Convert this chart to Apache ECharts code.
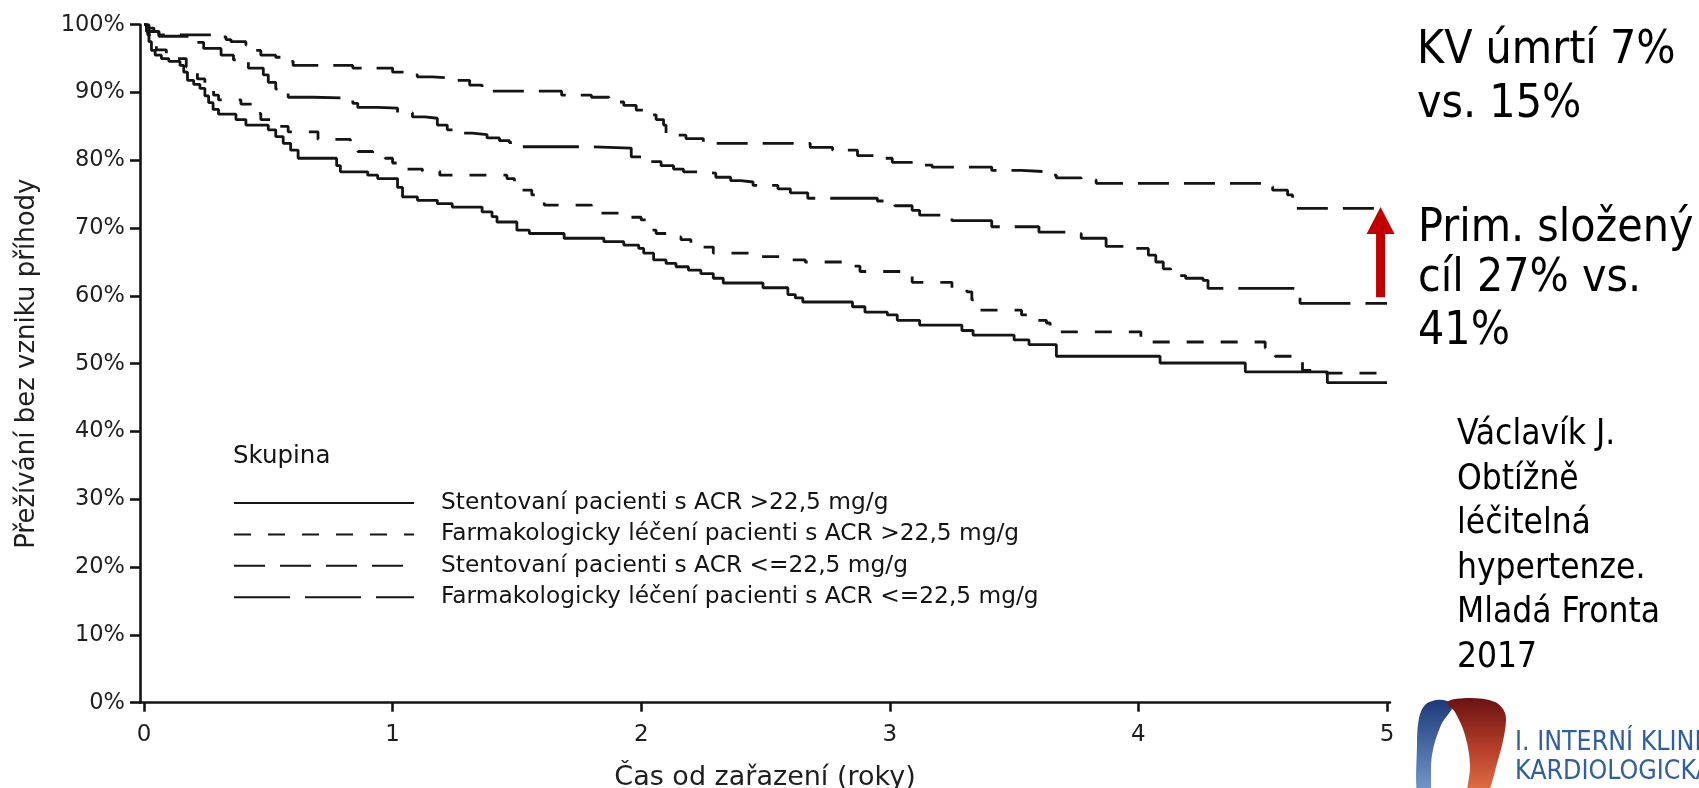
<!DOCTYPE html>
<html><head><meta charset="utf-8">
<script src="https://cdn.jsdelivr.net/npm/echarts@6.0.0/dist/echarts.min.js"></script>
<style>html,body{margin:0;padding:0;background:#fff}#c{width:1699px;height:788px}</style>
</head><body><div id="c"></div>
<script>
// ---- data (years, % survival without event) ----
const seriesNames = [
  'Stentovaní pacienti s ACR >22,5 mg/g',
  'Farmakologicky léčení pacienti s ACR >22,5 mg/g',
  'Stentovaní pacienti s ACR <=22,5 mg/g',
  'Farmakologicky léčení pacienti s ACR <=22,5 mg/g'
];
const stentHigh = [[0,100],[0.01,99],[0.02,97.5],[0.03,96.2],[0.045,95.5],[0.07,95],[0.1,94.6],[0.145,94],[0.16,93],[0.175,91.8],[0.2,91.2],[0.225,90.6],[0.245,89.5],[0.26,88.5],[0.278,87.5],[0.3,86.8],[0.37,86],[0.41,85.2],[0.5,84.5],[0.53,83.5],[0.56,82.5],[0.59,81.5],[0.62,80.3],[0.775,79.2],[0.79,78.3],[0.9,77.8],[0.94,77.3],[1.02,76],[1.04,74.6],[1.1,74.1],[1.18,73.6],[1.24,73.1],[1.36,72.4],[1.4,71.7],[1.42,70.9],[1.5,69.7],[1.55,69.2],[1.69,68.5],[1.85,68],[1.93,67.5],[1.99,67],[2.01,66.3],[2.05,65.3],[2.1,64.8],[2.14,64.3],[2.19,63.8],[2.24,63.3],[2.29,62.6],[2.33,61.9],[2.49,61.2],[2.59,60.2],[2.62,59.7],[2.65,59.1],[2.85,58.4],[2.9,57.6],[2.99,57.2],[3.03,56.4],[3.12,55.7],[3.29,54.9],[3.335,54.2],[3.5,53.5],[3.56,52.8],[3.67,51.1],[4.087,50.1],[4.43,48.8],[4.76,47.2],[5.0,47.2]];
const farmHigh = [[0,100],[0.015,98.5],[0.03,97.2],[0.05,96.3],[0.09,95.5],[0.13,95],[0.17,93.8],[0.2,93.3],[0.215,92],[0.245,91.2],[0.28,89.6],[0.3,88.9],[0.39,88.3],[0.44,86.9],[0.47,86],[0.52,85],[0.58,84.2],[0.7,83.1],[0.83,82],[0.86,81.3],[0.92,80.8],[0.97,80.3],[1.0,79.6],[1.03,78.7],[1.12,78.4],[1.19,77.8],[1.46,77.3],[1.49,76.6],[1.51,75.6],[1.56,74.9],[1.58,74.1],[1.61,73.4],[1.8,73],[1.84,72.2],[1.96,71.6],[2.0,71.2],[2.02,70.4],[2.03,69.7],[2.06,69.2],[2.11,68.7],[2.16,68.3],[2.2,67.5],[2.24,67.2],[2.29,66.3],[2.47,65.8],[2.59,65.3],[2.66,65],[2.84,64.4],[2.88,63.6],[3.07,63.1],[3.09,62],[3.25,61.2],[3.31,60.6],[3.33,59.4],[3.35,57.9],[3.53,57.2],[3.58,56.4],[3.63,56],[3.645,54.7],[4.01,53.2],[4.51,52.3],[4.55,51.1],[4.65,50.3],[4.66,49],[4.74,48.6],[5.0,48.6]];
const stentLow = [[0,100],[0.01,99.5],[0.04,99],[0.06,98.5],[0.29,98.2],[0.33,97.8],[0.35,97.5],[0.41,97],[0.44,96.2],[0.47,95.5],[0.53,95.2],[0.57,94.6],[0.6,94],[0.84,93.6],[1.0,93],[1.05,92.6],[1.1,92.3],[1.16,92.1],[1.26,91.8],[1.31,91.1],[1.36,90.2],[1.68,89.6],[1.8,89.3],[1.87,88.6],[1.93,88.1],[1.98,87.4],[2.02,86.7],[2.06,86],[2.09,85.2],[2.1,83.7],[2.18,83.2],[2.25,82.5],[2.68,81.9],[2.77,81.5],[2.87,80.7],[2.95,80.3],[3.01,79.7],[3.1,79.3],[3.17,79],[3.41,78.5],[3.53,78.3],[3.64,77.8],[3.67,77.4],[3.77,77.1],[3.83,76.6],[4.52,76.1],[4.54,75.6],[4.6,74.9],[4.62,72.9],[5.0,72.9]];
const farmLow = [[0,100],[0.02,99],[0.06,98.3],[0.19,97.4],[0.24,96.5],[0.31,95.5],[0.36,94.8],[0.42,93.6],[0.48,92.6],[0.5,91.5],[0.53,90.5],[0.58,89.3],[0.68,89.2],[0.82,88.9],[0.84,88.4],[0.86,87.8],[0.94,87.7],[1.02,87],[1.08,86.4],[1.13,86.2],[1.18,85.2],[1.22,84.5],[1.25,84],[1.32,83.8],[1.38,83.3],[1.43,82.9],[1.47,82.6],[1.52,82],[1.79,81.8],[1.96,80.5],[2.01,79.8],[2.08,79.2],[2.13,78.7],[2.17,78.3],[2.22,78.1],[2.3,77.5],[2.36,77],[2.4,76.8],[2.45,76.3],[2.55,75.8],[2.6,75.2],[2.67,74.4],[2.95,74],[3.02,73.3],[3.09,72.6],[3.12,71.9],[3.25,71.1],[3.41,70.2],[3.6,69.4],[3.73,69.2],[3.77,68.5],[3.87,67.3],[3.99,67],[4.04,66],[4.07,65],[4.1,64],[4.13,63],[4.19,62.6],[4.26,62.3],[4.28,61.1],[4.65,58.9],[5.0,58.9]];
const xTickValues = [0,1,2,3,4,5];
const arrowYear = 4.974, arrowFrom = 59.8, arrowTo = 73.1;
const note1 = ['KV úmrtí 7%','vs. 15%'];
const note2 = ['Prim. složený','cíl 27% vs.','41%'];
const refText = ['Václavík J.','Obtížně','léčitelná','hypertenze.','Mladá Fronta','2017'];
const logoText = ['I. INTERNÍ KLINIKA','KARDIOLOGICKÁ'];
const legendTitle = 'Skupina';

// ---- styles ----
const INK = '#141414';
const FONT = "'DejaVu Sans', 'Liberation Sans', sans-serif";
const SLIDE = "'DejaVu Sans Condensed', 'Liberation Sans', sans-serif";
const dashes = ['solid', [17,17], [31,15], [56,15]];
const allData = [stentHigh, farmHigh, stentLow, farmLow];

const chart = echarts.init(document.getElementById('c'), null, {renderer:'canvas'});
const option = {
  animation: false,
  backgroundColor: '#fff',
  grid: {left:140, right:309, top:24.7, bottom:85.3, containLabel:false, outerBoundsMode:'none'},
  legend: {
    orient:'vertical', left:233, top:491.5, padding:0, itemWidth:180, itemHeight:24, itemGap:8.4,
    selectedMode:false,
    itemStyle:{opacity:0},
    textStyle:{fontFamily:FONT, fontSize:23.3, color:INK, padding:[0,0,0,22]},
    data: seriesNames
  },
  xAxis: {
    type:'value', min:-0.016, max:5.012,
    axisLine:{show:true, onZero:false, lineStyle:{color:INK, width:2.6}},
    axisTick:{show:true, length:9, customValues:xTickValues, lineStyle:{color:INK, width:2.6}},
    axisLabel:{customValues:xTickValues, margin:21, fontFamily:FONT, fontSize:23, color:'#1e1e1e'},
    splitLine:{show:false},
    name:'Čas od zařazení (roky)', nameLocation:'middle', nameGap:62,
    nameTextStyle:{fontFamily:FONT, fontSize:27, color:'#1e1e1e'}
  },
  yAxis: {
    type:'value', min:0, max:100, interval:10,
    axisLine:{show:true, onZero:false, lineStyle:{color:INK, width:2.6}},
    axisTick:{show:true, length:10, lineStyle:{color:INK, width:2.6}},
    axisLabel:{formatter:'{value}%', margin:15, fontFamily:FONT, fontSize:22.5, color:'#1e1e1e'},
    splitLine:{show:false},
    name:'Přežívání bez vzniku příhody', nameLocation:'middle', nameGap:100,
    nameTextStyle:{fontFamily:FONT, fontSize:26, color:'#1e1e1e'}
  },
  series: allData.map((d,i)=>({
    name: seriesNames[i], type:'line', step:'end', data:d,
    symbol:'none', showSymbol:false, silent:true,
    lineStyle:{color:INK, width:2.8, type:dashes[i], cap:'butt'},
    itemStyle:{color:INK}
  }))
};
chart.setOption(option);

// ---- annotations ----
const p0 = chart.convertToPixel({gridIndex:0}, [arrowYear, arrowFrom]);
const p1 = chart.convertToPixel({gridIndex:0}, [arrowYear, arrowTo]);
const headLen = 27, headHalf = 14, shaftHalf = 4.5, RED = '#c00000';
const g = [];
g.push({type:'rect', silent:true, shape:{x:p0[0]-shaftHalf, y:p1[1]+headLen-1, width:shaftHalf*2, height:p0[1]-(p1[1]+headLen-1)}, style:{fill:RED}});
g.push({type:'polygon', silent:true, shape:{points:[[p1[0],p1[1]],[p1[0]-headHalf,p1[1]+headLen],[p1[0]+headHalf,p1[1]+headLen]]}, style:{fill:RED}});

g.push({type:'text', silent:true, x:233, y:457, style:{text:legendTitle, font:'24.5px '+FONT, fill:INK, align:'left', verticalAlign:'middle'}});

const txt = (s, x, y, size, color) => ({type:'text', x:x, y:y, silent:true,
  style:{text:s, font: size+'px '+SLIDE, fill:color||'#000', align:'left', verticalAlign:'middle'}});
[51, 105].forEach((y,i)=>g.push(txt(note1[i], 1417, y, 46)));
[229, 279, 332].forEach((y,i)=>g.push(txt(note2[i], 1418, y, 46)));
refText.forEach((s,i)=>g.push(txt(s, 1457, 435 + i*44.5, 35)));

// logo
g.push({type:'polygon', silent:true,
  shape:{smooth:0.35, points:[[1418,800],[1417,745],[1419,718],[1425,705],[1436,700],[1447,701],[1453,706],[1441,725],[1432,755],[1429,800]]},
  style:{fill:{type:'linear',x:0,y:0,x2:0,y2:1,colorStops:[{offset:0,color:'#1c3a78'},{offset:1,color:'#7fa3d6'}]}}});
g.push({type:'polygon', silent:true,
  shape:{smooth:0.35, points:[[1447,702],[1470,698],[1495,702],[1505,713],[1505,730],[1498,760],[1484,800],[1468,800],[1470,765],[1465,735],[1455,712]]},
  style:{fill:{type:'linear',x:0,y:0,x2:0,y2:1,colorStops:[{offset:0,color:'#6a1212'},{offset:0.5,color:'#b8402a'},{offset:1,color:'#ea7c4c'}]}}});
g.push(txt(logoText[0], 1515, 743, 26.5, '#2f5f9f'));
g.push(txt(logoText[1], 1515, 772, 26.5, '#2f5f9f'));

chart.setOption({graphic: g});
</script>
</body></html>
